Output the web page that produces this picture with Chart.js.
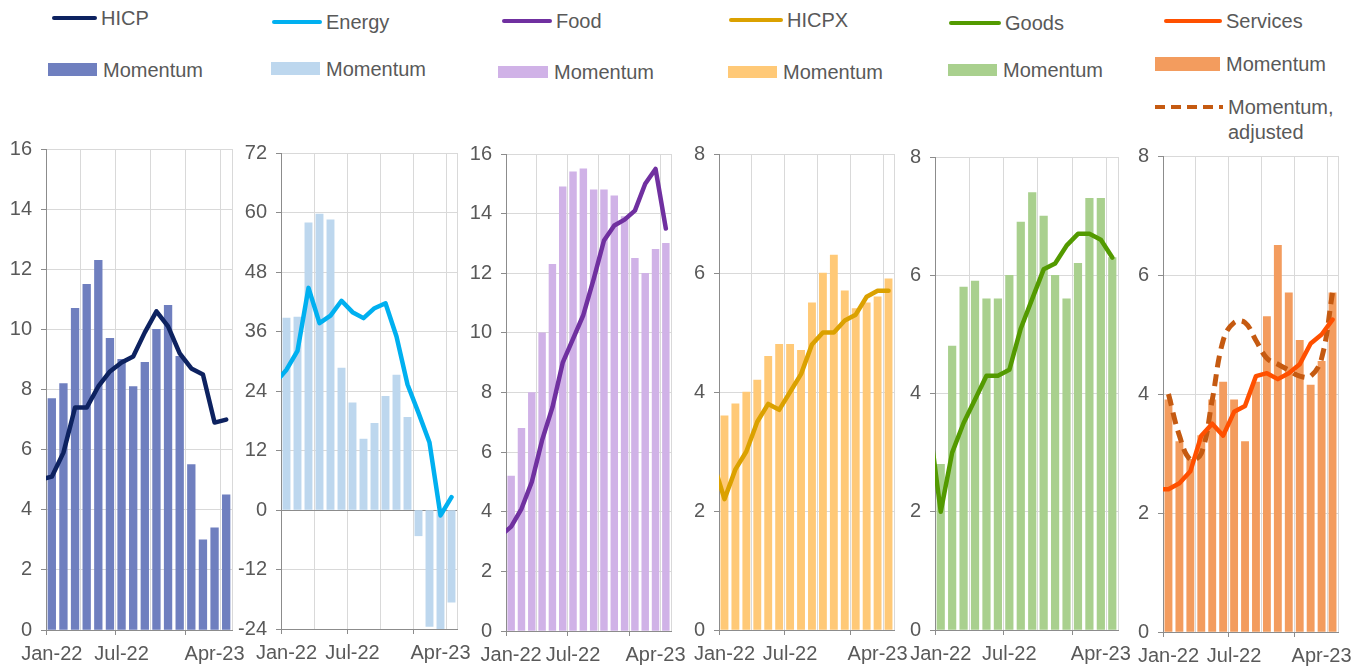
<!DOCTYPE html>
<html>
<head>
<meta charset="utf-8">
<script src="https://cdn.jsdelivr.net/npm/chart.js@4.4.0/dist/chart.umd.min.js"></script>
<style>
  body { margin: 0; background: #fff; width: 1356px; height: 667px; overflow: hidden; position: relative;
         font-family: 'Liberation Sans', Arial, sans-serif; color: #595959; }
  canvas { position: absolute; top: 110px; }
  .txt { position: absolute; font-size: 20px; line-height: 1; white-space: nowrap; transform: translateY(-50%); }
  .ln { position: absolute; height: 4px; border-radius: 2px; transform: translateY(-50%); }
  .bx { position: absolute; }
  .dash { position: absolute; height: 4px; transform: translateY(-50%);
          background: repeating-linear-gradient(to right, #c55a11 0 10px, rgba(0,0,0,0) 10px 16px); }
</style>
</head>
<body>
<div id="legend"></div>
<script>
// --- Data: Dec-21 .. Apr-23 for annual rates, Jan-22 .. Apr-23 for momentum ---
const months = ['Dec-21', 'Jan-22', 'Feb-22', 'Mar-22', 'Apr-22', 'May-22', 'Jun-22', 'Jul-22', 'Aug-22',
                'Sep-22', 'Oct-22', 'Nov-22', 'Dec-22', 'Jan-23', 'Feb-23', 'Mar-23', 'Apr-23'];
const xLabelText = ['Jan-22', 'Jul-22', 'Apr-23'];
const xLabelPos = [1, 7, 15];
const xGridPos = [0.5, 3.5, 6.5, 9.5, 12.5, 15.5, 16.5];

const hicpRate = [5.0, 5.1, 5.9, 7.4, 7.4, 8.1, 8.6, 8.9, 9.1, 9.9, 10.6, 10.1, 9.2, 8.7, 8.5, 6.9, 7.0];
const hicpMomentum = [7.7, 8.2, 10.7, 11.5, 12.3, 9.7, 9.0, 8.1, 8.9, 10.0, 10.8, 9.1, 5.5, 3.0, 3.4, 4.5];

const energyRate = [25.7, 28.3, 32.1, 44.8, 37.7, 39.2, 42.2, 39.9, 38.7, 40.7, 41.7, 35.0, 25.3, 19.6, 13.6, -1.1, 2.6];
const energyMomentum = [38.7, 38.9, 57.9, 59.7, 58.5, 28.6, 21.6, 14.3, 17.5, 22.9, 27.2, 18.7, -5.2, -23.5, -24.0, -18.6];

const foodRate = [3.2, 3.5, 4.1, 5.0, 6.4, 7.5, 9.0, 9.8, 10.6, 11.8, 13.1, 13.6, 13.8, 14.1, 15.0, 15.5, 13.5];
const foodMomentum = [5.2, 6.8, 8.0, 10.0, 12.3, 14.9, 15.4, 15.5, 14.8, 14.8, 14.6, 13.9, 12.5, 12.0, 12.8, 13.0];

const hicpxRate = [2.8, 2.2, 2.7, 3.0, 3.5, 3.8, 3.7, 4.0, 4.3, 4.8, 5.0, 5.0, 5.2, 5.3, 5.6, 5.7, 5.7];
const hicpxMomentum = [3.6, 3.8, 4.0, 4.2, 4.6, 4.8, 4.8, 4.7, 5.5, 6.0, 6.3, 5.7, 5.4, 5.5, 5.6, 5.9];

const goodsRate = [3.5, 2.0, 3.0, 3.5, 3.9, 4.3, 4.3, 4.4, 5.1, 5.6, 6.1, 6.2, 6.5, 6.7, 6.7, 6.6, 6.3];
const goodsMomentum = [2.8, 4.8, 5.8, 5.9, 5.6, 5.6, 6.0, 6.9, 7.4, 7.0, 6.0, 5.6, 6.2, 7.3, 7.3, 6.3];

const servicesRate = [2.4, 2.4, 2.5, 2.7, 3.3, 3.5, 3.3, 3.7, 3.8, 4.3, 4.35, 4.25, 4.35, 4.5, 4.85, 5.0, 5.25];
const servicesMomentum = [3.9, 3.2, 2.9, 3.3, 3.9, 4.2, 3.9, 3.2, 4.2, 5.3, 6.5, 5.7, 4.9, 4.15, 4.55, 5.7];
const servicesAdjusted = [4.0, 3.3, 2.9, 3.0, 3.9, 4.9, 5.2, 5.2, 4.9, 4.6, 4.5, 4.4, 4.3, 4.3, 4.6, 5.7];

// --- Panel layout (canvas left, plot left/right/top/bottom) ---
const panels = [
  { name: 'HICP', rate: hicpRate, mom: hicpMomentum, line: '#0d2260', bar: '#6f7fbf',
    yMin: 0, yMax: 16, step: 2, cl: 0, pl: 46, pr: 232, pt: 149, pb: 630 },
  { name: 'Energy', rate: energyRate, mom: energyMomentum, line: '#00b0f0', bar: '#bdd7ee',
    yMin: -24, yMax: 72, step: 12, cl: 228, pl: 281, pr: 457, pt: 153, pb: 629 },
  { name: 'Food', rate: foodRate, mom: foodMomentum, line: '#7030a0', bar: '#d0b2e7',
    yMin: 0, yMax: 16, step: 2, cl: 460, pl: 506, pr: 671, pt: 154, pb: 631 },
  { name: 'HICPX', rate: hicpxRate, mom: hicpxMomentum, line: '#dba100', bar: '#ffc977',
    yMin: 0, yMax: 8, step: 2, cl: 680, pl: 719, pr: 894, pt: 154, pb: 630 },
  { name: 'Goods', rate: goodsRate, mom: goodsMomentum, line: '#539a00', bar: '#a9d08e',
    yMin: 0, yMax: 8, step: 2, cl: 898, pl: 935, pr: 1118, pt: 157, pb: 630 },
  { name: 'Services', rate: servicesRate, mom: servicesMomentum, line: '#ff5000', bar: '#f39c5e',
    adj: servicesAdjusted, adjColor: '#c55a11',
    yMin: 0, yMax: 8, step: 2, cl: 1124, pl: 1163, pr: 1338, pt: 156, pb: 632 }
];

Chart.defaults.font.family = "'Liberation Sans', Arial, sans-serif";
Chart.defaults.font.size = 20;
Chart.defaults.color = '#595959';

const gridGray = '#d9d9d9';
const axisGray = '#8c8c8c';
const canvasTop = 110;
const canvasH = 667 - canvasTop;

function buildPanel(p) {
  const cv = document.createElement('canvas');
  const cw = p.pr - p.cl + 28;
  cv.width = cw;
  cv.height = canvasH;
  cv.style.left = p.cl + 'px';
  document.body.appendChild(cv);

  // bar width: two thirds of one month slot
  const slot = (p.pr - p.pl) / 16;

  const datasets = [];
  if (p.adj) {
    datasets.push({
      type: 'line', data: p.adj.map((v, i) => ({ x: i + 1, y: v })),
      borderColor: p.adjColor, borderWidth: 5, borderDash: [12, 7], tension: 0.4,
      pointRadius: 0, clip: 0, order: 1
    });
  }
  datasets.push({
    type: 'line', data: p.rate.map((v, i) => ({ x: i, y: v })),
    borderColor: p.line, borderWidth: 4.5, tension: 0, pointRadius: 0,
    borderJoinStyle: 'round', borderCapStyle: 'round', clip: 0, order: 0
  });
  datasets.push({
    type: 'bar', data: p.mom.map((v, i) => ({ x: i + 1, y: v })),
    backgroundColor: p.bar, barThickness: slot * 0.66, order: 3
  });

  const tickVals = xGridPos.concat(xLabelPos).sort((a, b) => a - b);

  new Chart(cv, {
    type: 'bar',
    data: { datasets },
    options: {
      responsive: false,
      animation: false,
      layout: { padding: { top: p.pt - canvasTop, right: cw - (p.pr - p.cl), left: 0, bottom: 0 } },
      plugins: { legend: { display: false }, tooltip: { enabled: false } },
      scales: {
        x: {
          type: 'linear', min: 0.5, max: 16.5, offset: false,
          afterBuildTicks: s => { s.ticks = tickVals.map(v => ({ value: v })); },
          afterFit: s => { s.height = canvasTop + canvasH - p.pb; },
          grid: {
            offset: false,
            color: c => (c.tick && xGridPos.includes(c.tick.value)) ? gridGray : 'rgba(0,0,0,0)',
            tickColor: c => (c.tick && [0.5, 6.5, 12.5].includes(c.tick.value)) ? axisGray : 'rgba(0,0,0,0)',
            tickLength: 5
          },
          border: { color: axisGray, width: 1 },
          ticks: {
            autoSkip: false, maxRotation: 0, padding: 7,
            callback: v => {
              const k = xLabelPos.indexOf(v);
              return k >= 0 ? xLabelText[k] : '';
            }
          }
        },
        y: {
          min: p.yMin, max: p.yMax,
          afterFit: s => { s.width = p.pl - p.cl; },
          ticks: { stepSize: p.step, padding: 9 },
          grid: {
            color: c => (c.tick && c.tick.value === 0 && p.yMin < 0) ? axisGray : gridGray,
            tickColor: axisGray, tickLength: 5
          },
          border: { color: axisGray, width: 1 }
        }
      }
    }
  });
}

panels.forEach(buildPanel);

// --- Legend (HTML) ---
const legendLines = [
  { label: 'HICP', color: '#0d2260', x: 52, w: 45, y: 18 },
  { label: 'Energy', color: '#00b0f0', x: 272, w: 50, y: 22 },
  { label: 'Food', color: '#7030a0', x: 502, w: 50, y: 21 },
  { label: 'HICPX', color: '#dba100', x: 729, w: 54, y: 20 },
  { label: 'Goods', color: '#539a00', x: 949, w: 52, y: 23 },
  { label: 'Services', color: '#ff5000', x: 1164, w: 58, y: 21 }
];
const legendBars = [
  { color: '#6f7fbf', x: 48, w: 49, y: 63, h: 13 },
  { color: '#bdd7ee', x: 271, w: 49, y: 62, h: 13 },
  { color: '#d0b2e7', x: 498, w: 50, y: 66, h: 12 },
  { color: '#ffc977', x: 728, w: 49, y: 66, h: 12 },
  { color: '#a9d08e', x: 948, w: 49, y: 64, h: 12 },
  { color: '#f39c5e', x: 1155, w: 65, y: 57, h: 14 }
];
const lg = document.getElementById('legend');
function add(html) { lg.insertAdjacentHTML('beforeend', html); }
legendLines.forEach(l => {
  add(`<div class="ln" style="left:${l.x}px;top:${l.y}px;width:${l.w}px;background:${l.color}"></div>`);
  add(`<div class="txt" style="left:${l.x + l.w + 4}px;top:${l.y}px">${l.label}</div>`);
});
legendBars.forEach(b => {
  add(`<div class="bx" style="left:${b.x}px;top:${b.y}px;width:${b.w}px;height:${b.h}px;background:${b.color}"></div>`);
  add(`<div class="txt" style="left:${b.x + b.w + 6}px;top:${b.y + b.h / 2}px">Momentum</div>`);
});
add(`<div class="dash" style="left:1155px;top:107px;width:68px"></div>`);
add(`<div class="txt" style="left:1228px;top:107px">Momentum,</div>`);
add(`<div class="txt" style="left:1228px;top:132px">adjusted</div>`);
</script>
</body>
</html>
